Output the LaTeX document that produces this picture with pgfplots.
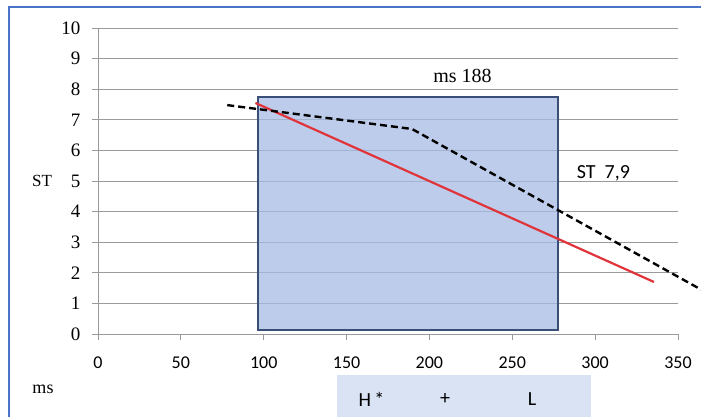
\documentclass[border=0pt]{standalone}
\usepackage{pgfplots}
\pgfplotsset{compat=1.18}
\usepackage{fontspec}
\setmainfont{Liberation Serif}
\newfontfamily\calfont{Carlito}
\definecolor{frameblue}{HTML}{4A74C8}
\definecolor{boxfill}{HTML}{A6BCE3}
\definecolor{boxedge}{HTML}{3A4F78}
\definecolor{gridgray}{HTML}{9A9A9A}
\definecolor{redline}{HTML}{E0343A}
\definecolor{lowbox}{HTML}{DAE3F3}
\begin{document}
\begin{tikzpicture}
\useasboundingbox (0pt,0pt) rectangle (701pt,416pt);
\fill[white] (0pt,0pt) rectangle (701pt,416pt);
\draw[line width=2pt, frameblue] (9pt,-5pt) -- (9pt,409pt) -- (710pt,409pt);
\begin{axis}[
  at={(98pt,82pt)}, anchor=south west,
  scale only axis, width=580pt, height=306pt,
  xmin=0, xmax=350, ymin=0, ymax=10,
  axis lines*=left,
  axis line style={gridgray, line width=0.8pt},
  tick align=outside,
  major tick length=6pt,
  tick style={gridgray, line width=0.8pt},
  xtick={0,50,...,350}, ytick={0,1,...,10},
  ymajorgrids, grid style={gridgray, line width=0.8pt},
  xticklabel style={font=\calfont\fontsize{18}{18}\selectfont, yshift=-13pt},
  yticklabel style={font=\fontsize{19}{19}\selectfont, xshift=-8pt},
  /pgf/number format/assume math mode=true,
  clip=false,
]
\fill[lowbox] (axis cs:144.2,-1.34) rectangle (axis cs:297.5,-2.8);
\node[font=\calfont\fontsize{20}{20}\selectfont] at (axis cs:165,-2.14) {H\,*};
\node[font=\calfont\fontsize{20}{20}\selectfont] at (axis cs:209.4,-2.14) {+};
\node[font=\calfont\fontsize{20}{20}\selectfont] at (axis cs:262,-2.14) {L};
\addplot[draw=boxedge, fill=boxfill, fill opacity=0.75, line width=1.6pt, line join=miter]
  coordinates {(96.5,0.13) (277.5,0.13) (277.5,7.75) (96.5,7.75)} -- cycle;
\addplot[redline, line width=2.2pt] coordinates {(95,7.55) (335.5,1.7)};
\addplot[black, line width=2.4pt, dash pattern=on 7pt off 4pt]
  coordinates {(78,7.48) (189.5,6.7) (364,1.45)};
\node[font=\fontsize{20}{20}\selectfont] at (axis cs:220,8.43) {ms 188};
\node[font=\calfont\fontsize{20}{20}\selectfont] at (axis cs:305,5.26) {ST\ \ 7,9};
\end{axis}
\node[font=\fontsize{17}{17}\selectfont] at (42pt,235pt) {ST};
\node[font=\fontsize{18}{18}\selectfont] at (43pt,27pt) {ms};
\end{tikzpicture}
\end{document}
